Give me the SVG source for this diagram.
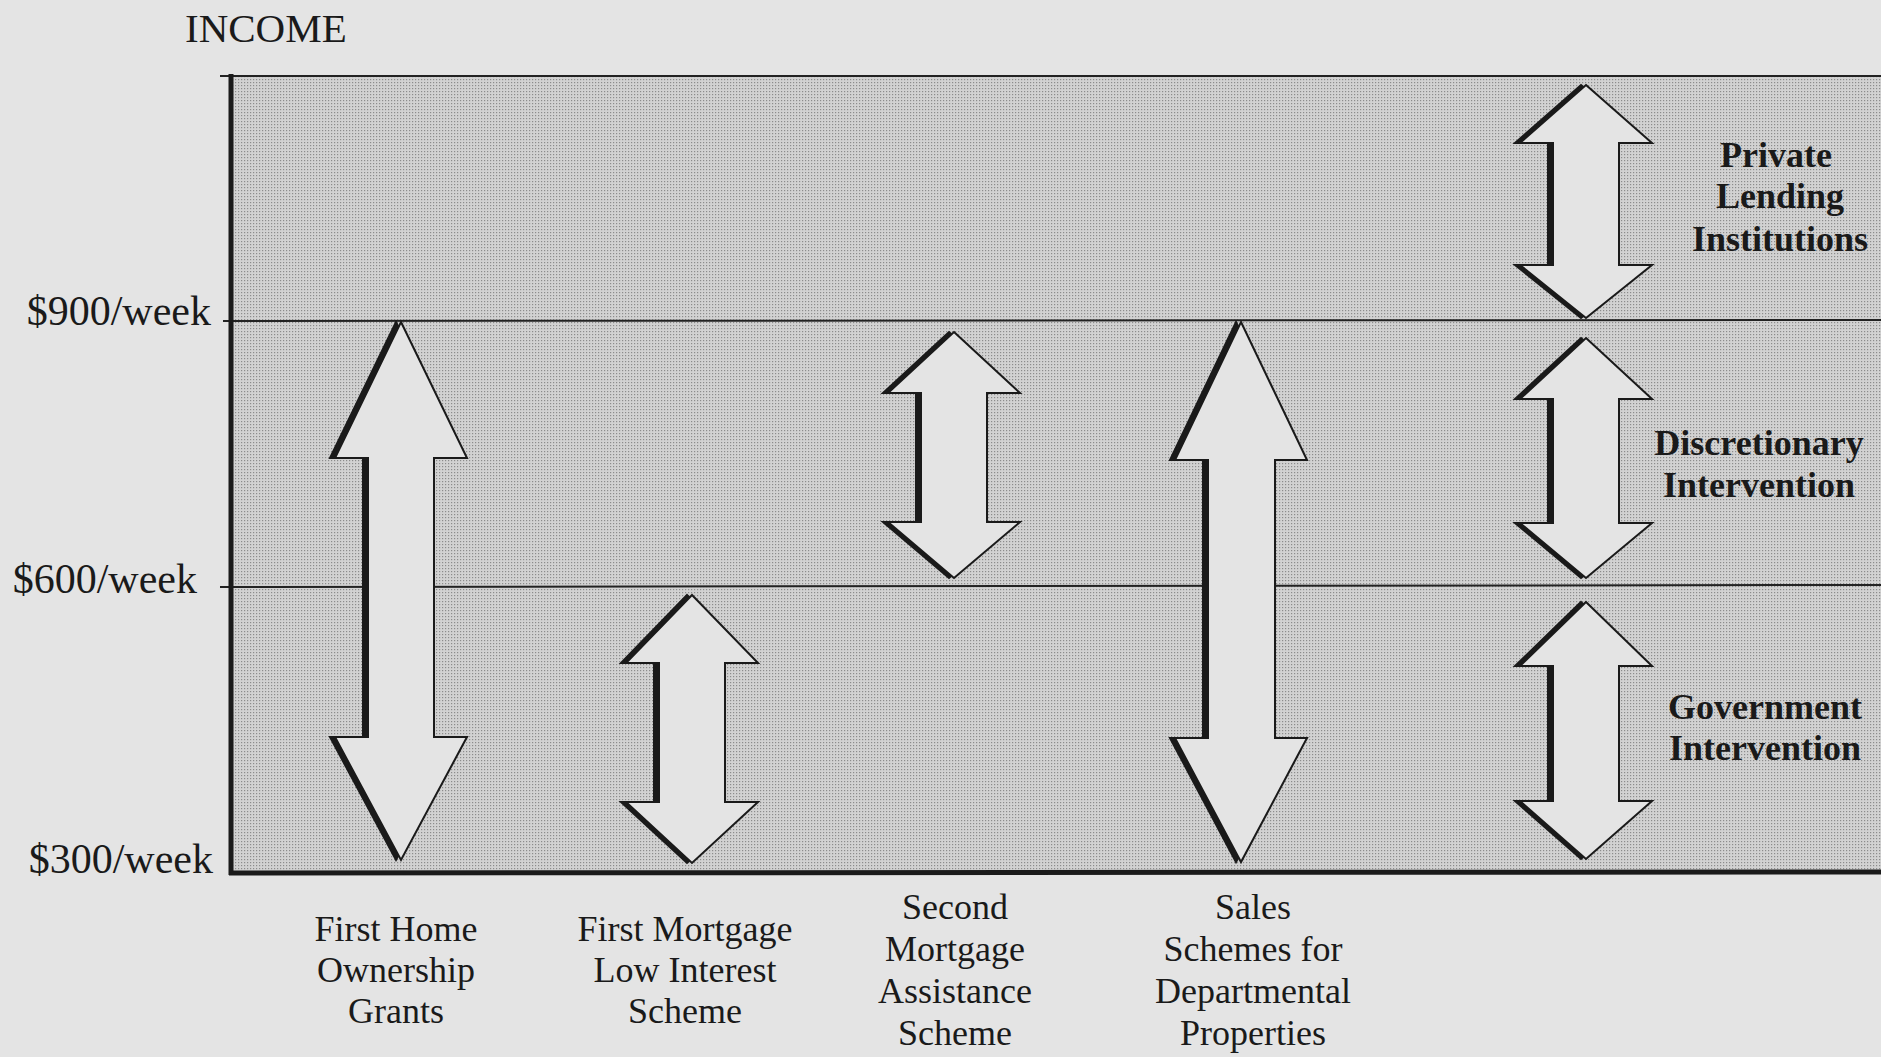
<svg xmlns="http://www.w3.org/2000/svg" xmlns:xlink="http://www.w3.org/1999/xlink" width="1881" height="1057" viewBox="0 0 1881 1057">
<style>
.lbl{font-family:"Liberation Serif","Times New Roman",serif;font-size:36px;fill:#1a1a1a;text-anchor:middle}
.ax{font-family:"Liberation Serif","Times New Roman",serif;font-size:42px;fill:#1a1a1a}
.bl{font-family:"Liberation Serif","Times New Roman",serif;font-size:36px;font-weight:bold;fill:#1a1a1a;text-anchor:middle}
.ar{fill:#e4e4e4;stroke:#1a1a1a;stroke-width:2;stroke-linejoin:miter}
.sh{fill:#1a1a1a;stroke:#1a1a1a;stroke-width:2}
.thin{stroke:#222;stroke-width:2;fill:none}
.thick{stroke:#1a1a1a;stroke-width:5;fill:none}
</style>
<defs>
<pattern id="stip" width="3" height="3" patternUnits="userSpaceOnUse">
<rect width="3" height="3" fill="#d2d2d2"/>
<rect x="1" y="1" width="1.2" height="1.2" fill="#8c8c8c"/>
</pattern>
</defs>
<rect width="1881" height="1057" fill="#e4e4e4"/>
<g id="chart">
<rect x="232" y="76" width="1649" height="797" fill="url(#stip)"/>
<line class="thin" x1="220" y1="76" x2="1881" y2="76"/>
<line class="thin" x1="223" y1="321" x2="1881" y2="320"/>
<line class="thin" x1="220" y1="587" x2="1881" y2="585"/>
<line class="thick" x1="231" y1="74" x2="231" y2="875"/>
<line class="thick" x1="229" y1="873" x2="1881" y2="872"/>
<text class="ax" x="185" y="42" style="font-size:41px">INCOME</text>
<text class="ax" x="211" y="325" text-anchor="end">$900/week</text>
<text class="ax" x="197" y="593" text-anchor="end">$600/week</text>
<text class="ax" x="213" y="873" text-anchor="end">$300/week</text>
</g>
<g id="connectors">
<g id="arrow-first-home">
<polygon class="sh" transform="translate(-5,0)" points="401,322 467,458 434,458 434,737 467,737 401,860 335,737 368,737 368,458 335,458"/>
<polygon class="ar" points="401,322 467,458 434,458 434,737 467,737 401,860 335,737 368,737 368,458 335,458"/>
</g>
<g id="arrow-first-mortgage">
<polygon class="sh" transform="translate(-5,0)" points="692,595 758,663 725,663 725,802 758,802 692,863 626,802 659,802 659,663 626,663"/>
<polygon class="ar" points="692,595 758,663 725,663 725,802 758,802 692,863 626,802 659,802 659,663 626,663"/>
</g>
<g id="arrow-second-mortgage">
<polygon class="sh" transform="translate(-5,0)" points="954,332 1020,393 987,393 987,522 1020,522 954,578 888,522 921,522 921,393 888,393"/>
<polygon class="ar" points="954,332 1020,393 987,393 987,522 1020,522 954,578 888,522 921,522 921,393 888,393"/>
</g>
<g id="arrow-sales">
<polygon class="sh" transform="translate(-5,0)" points="1241,322 1307,460 1275,460 1275,738 1307,738 1241,862 1175,738 1208,738 1208,460 1175,460"/>
<polygon class="ar" points="1241,322 1307,460 1275,460 1275,738 1307,738 1241,862 1175,738 1208,738 1208,460 1175,460"/>
</g>
<g id="arrow-private">
<polygon class="sh" transform="translate(-5,0)" points="1586,85 1652,143 1619,143 1619,265 1652,265 1586,318 1520,265 1553,265 1553,143 1520,143"/>
<polygon class="ar" points="1586,85 1652,143 1619,143 1619,265 1652,265 1586,318 1520,265 1553,265 1553,143 1520,143"/>
</g>
<g id="arrow-discretionary">
<polygon class="sh" transform="translate(-5,0)" points="1586,338 1652,399 1619,399 1619,523 1652,523 1586,578 1520,523 1553,523 1553,399 1520,399"/>
<polygon class="ar" points="1586,338 1652,399 1619,399 1619,523 1652,523 1586,578 1520,523 1553,523 1553,399 1520,399"/>
</g>
<g id="arrow-government">
<polygon class="sh" transform="translate(-5,0)" points="1586,602 1652,666 1619,666 1619,801 1652,801 1586,859 1520,801 1553,801 1553,666 1520,666"/>
<polygon class="ar" points="1586,602 1652,666 1619,666 1619,801 1652,801 1586,859 1520,801 1553,801 1553,666 1520,666"/>
</g>
</g>
<g id="label-private">
<text class="bl" x="1776" y="167">Private</text>
<text class="bl" x="1780" y="208">Lending</text>
<text class="bl" x="1780" y="251">Institutions</text>
</g>
<g id="label-discretionary">
<text class="bl" x="1759" y="455">Discretionary</text>
<text class="bl" x="1759" y="497">Intervention</text>
</g>
<g id="label-government">
<text class="bl" x="1765" y="719">Government</text>
<text class="bl" x="1765" y="760">Intervention</text>
</g>
<g id="label-first-home">
<text class="lbl" x="396" y="941">First Home</text>
<text class="lbl" x="396" y="982">Ownership</text>
<text class="lbl" x="396" y="1023">Grants</text>
</g>
<g id="label-first-mortgage">
<text class="lbl" x="685" y="941">First Mortgage</text>
<text class="lbl" x="685" y="982">Low Interest</text>
<text class="lbl" x="685" y="1023">Scheme</text>
</g>
<g id="label-second-mortgage">
<text class="lbl" x="955" y="919">Second</text>
<text class="lbl" x="955" y="961">Mortgage</text>
<text class="lbl" x="955" y="1003">Assistance</text>
<text class="lbl" x="955" y="1045">Scheme</text>
</g>
<g id="label-sales">
<text class="lbl" x="1253" y="919">Sales</text>
<text class="lbl" x="1253" y="961">Schemes for</text>
<text class="lbl" x="1253" y="1003">Departmental</text>
<text class="lbl" x="1253" y="1045">Properties</text>
</g>
</svg>
